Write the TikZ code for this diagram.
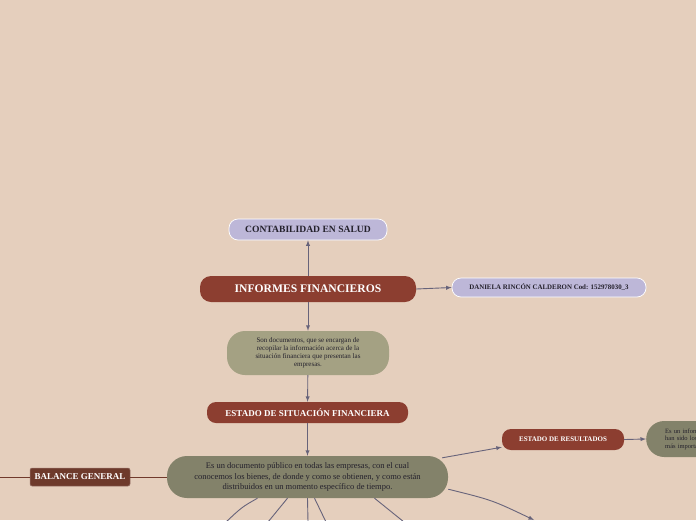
\documentclass[tikz,border=0pt]{standalone}
\usepackage{fontspec}
\setmainfont{Liberation Serif}
\usetikzlibrary{calc,shapes,arrows}
\definecolor{fondo}{HTML}{E5CFBD}
\definecolor{lila}{HTML}{BDB7D8}
\definecolor{teja}{HTML}{8C3E30}
\definecolor{cafe}{HTML}{6E3A2B}
\definecolor{olivaclara}{HTML}{A4A183}
\definecolor{olivaoscura}{HTML}{83826A}
\definecolor{gris}{HTML}{67637A}
\definecolor{tinta}{HTML}{24212C}

\begin{document}
\begin{tikzpicture}[x=1pt,y=-1pt,
    lila/.style={fill=lila,draw=white,line width=0.7pt,rounded corners=9pt,font=\bfseries,text=tinta,inner sep=0pt},
    teja/.style={fill=teja,rounded corners=9pt,font=\bfseries,text=white,inner sep=0pt},
    oliva/.style={fill=#1,rounded corners=18pt,text=tinta,align=center,inner sep=0pt},
    flecha/.style={draw=gris,line width=0.9pt,-latex},
    rama/.style={draw=gris,line width=0.9pt}]
    \useasboundingbox (0,0) rectangle (696,520);
    \fill[fondo] (0,0) rectangle (696,520);
    \clip (0,0) rectangle (696,520);

    \node[lila,minimum width=158pt,minimum height=21pt,font=\bfseries\fontsize{9.6}{11}\selectfont] (contabilidad) at (308,229.5) {CONTABILIDAD EN SALUD};
    \node[teja,minimum width=216pt,minimum height=26pt,rounded corners=11pt,font=\bfseries\fontsize{11.6}{13}\selectfont] (informes) at (308,289) {INFORMES FINANCIEROS};
    \node[lila,minimum width=194pt,minimum height=19pt,font=\bfseries\fontsize{6.9}{8}\selectfont] (daniela) at (549,287.5) {DANIELA RINCÓN CALDERON Cod: 152978030\_3};
    \node[oliva=olivaclara,minimum width=162pt,minimum height=44pt,font=\fontsize{7}{8}\selectfont] (documentos) at (308,353)
        {Son documentos, que se encargan de\\recopilar la información acerca de la\\situación financiera que presentan las\\empresas.};
    \node[teja,minimum width=201pt,minimum height=21pt,font=\bfseries\fontsize{9}{10}\selectfont] (situacion) at (307.5,412.5) {ESTADO DE SITUACIÓN FINANCIERA};
    \node[oliva=olivaoscura,minimum width=281pt,minimum height=42pt,rounded corners=20pt,font=\fontsize{8.5}{10.5}\selectfont] (publico) at (307.5,477)
        {Es un documento público en todas las empresas, con el cual\\conocemos los bienes, de donde y como se obtienen, y como están\\distribuidos en un momento específico de tiempo.};
    \node[fill=cafe,draw=cafe!70!white,line width=0.5pt,rounded corners=2pt,minimum width=100pt,minimum height=18pt,inner sep=0pt,text=white,font=\bfseries\fontsize{9}{10}\selectfont] (balance) at (80,477) {BALANCE GENERAL};
    \node[teja,minimum width=122pt,minimum height=21pt,font=\bfseries\fontsize{7}{8}\selectfont] (resultados) at (563,439.5) {ESTADO DE RESULTADOS};
    \node[oliva=olivaoscura,anchor=west,minimum height=36pt,align=left,text width=120pt,inner xsep=19pt,inner ysep=0pt,font=\fontsize{6.5}{7.6}\selectfont] (informe) at (646,439)
        {Es un informe financiero que muestra\\han sido los ingresos y gastos\\más importantes};

    \coordinate (izq) at (-5,477);
    \draw[flecha] (informes) -- (contabilidad);
    \draw[flecha] (informes.east) -- (daniela.west);
    \draw[flecha] (informes) -- (documentos);
    \draw[flecha] (documentos) -- (situacion);
    \draw[flecha] (situacion) -- (publico);
    \draw[draw=cafe!90!teja,line width=1pt] (izq) -- (balance);
    \draw[draw=cafe!90!teja,line width=1pt] (balance) -- (publico);
    \draw[flecha] ($(publico.north east)+(-6,2)$) -- ($(resultados.south west)+(0,-3)$);
    \draw[flecha] (resultados.east) -- (informe.west);

    \foreach \n/\dx/\fx in {a/-20/268, b/0/308, c/7/326, d/67/404}
    {
        \coordinate (pie\n) at (\fx,522);
        \draw[rama] ($(publico.south)+(\dx,0)$) -- (pie\n);
    }
    \coordinate (piee) at (226,522);
    \coordinate (pief) at (534,520);
    \draw[rama] ($(publico.south)+(-50,0)$) .. controls (242,507) .. (piee);
    \draw[flecha] ($(publico.south east)+(0,-9)$) .. controls (492,500) .. (pief);
\end{tikzpicture}
\end{document}
